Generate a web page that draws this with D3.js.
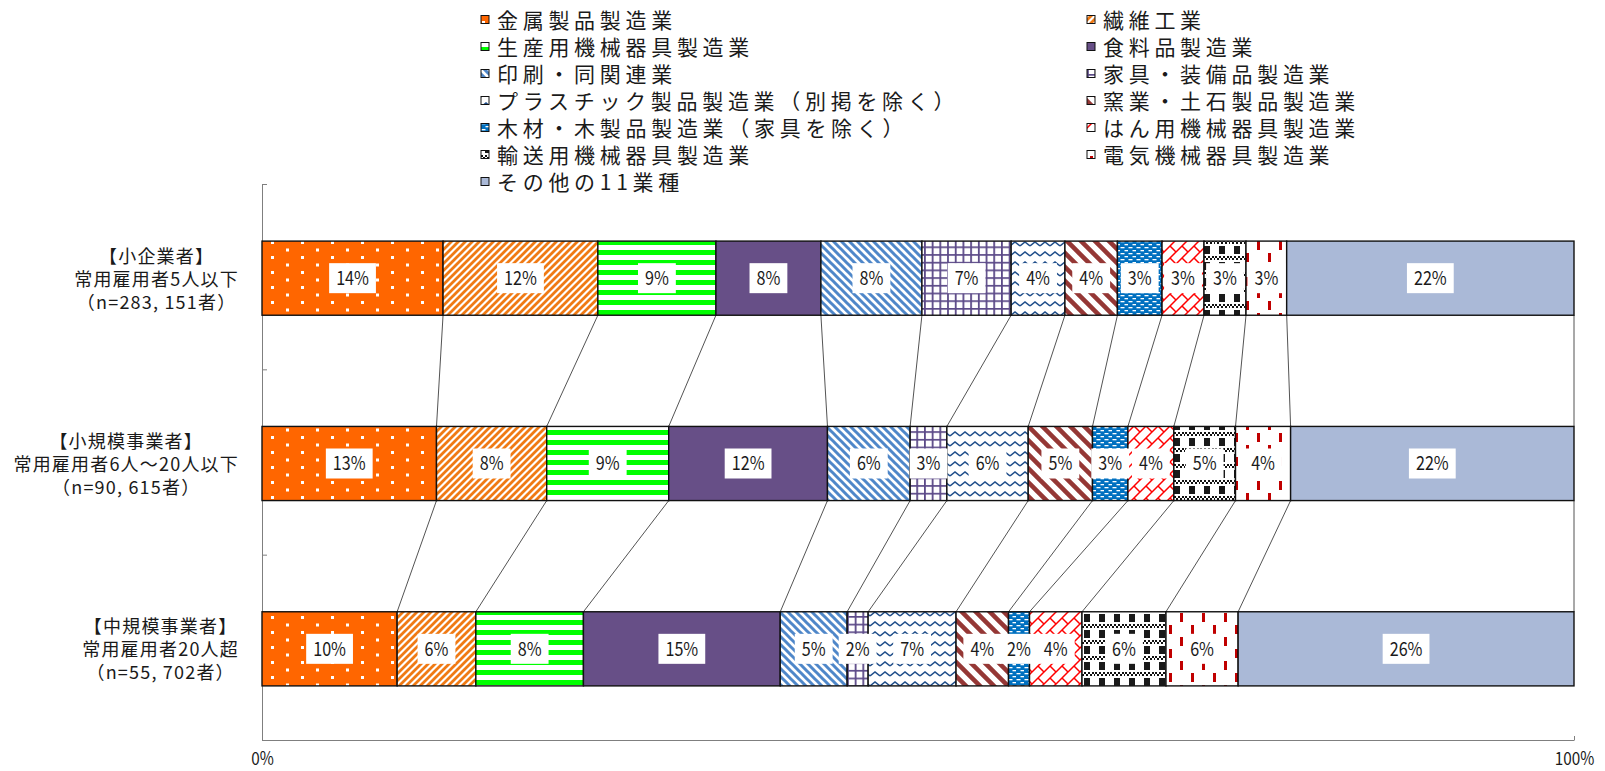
<!DOCTYPE html>
<html>
<head>
<meta charset="utf-8">
<script src="https://cdn.jsdelivr.net/npm/d3@7"></script>
<style>
body { margin: 0; background: #fff; }
text { font-family: "Noto Sans CJK JP", "Noto Sans", sans-serif; fill: #1a1a1a; }
</style>
</head>
<body>
<script>
// data (percent of businesses)
var industries = ["金属製品製造業", "繊維工業", "生産用機械器具製造業", "食料品製造業",
	"印刷・同関連業", "家具・装備品製造業", "プラスチック製品製造業（別掲を除く）", "窯業・土石製品製造業",
	"木材・木製品製造業（家具を除く）", "はん用機械器具製造業", "輸送用機械器具製造業", "電気機械器具製造業",
	"その他の11業種"];

var rowLabels = [
	["【小企業者】", "常用雇用者5人以下", "（n=283, 151者）"],
	["【小規模事業者】", "常用雇用者6人～20人以下", "（n=90, 615者）"],
	["【中規模事業者】", "常用雇用者20人超", "（n=55, 702者）"]
];

var smallEnterprise = [13.8, 11.8, 9.0, 8.0, 7.7, 6.8, 4.1, 4.0, 3.4, 3.2, 3.2, 3.1, 21.9];
var smallScale      = [13.3, 8.4, 9.3, 12.1, 6.3, 2.8, 6.2, 4.9, 2.7, 3.5, 4.7, 4.2, 21.6];
var mediumScale     = [10.3, 6.0, 8.2, 15.0, 5.1, 1.6, 6.7, 4.0, 1.6, 4.0, 6.4, 5.5, 25.6];

var xTickValues = [0, 100];
var xTickLabels = ["0%", "100%"];

var rowsData = [smallEnterprise, smallScale, mediumScale];

var width = 1605, height = 771;

var svg = d3.select("body").append("svg")
			.attr("width", width)
			.attr("height", height);

var defs = svg.append("defs");

// pattern helper
var addPattern = function(id, w, h, bg, draw){
	var p = defs.append("pattern")
				.attr("id", id)
				.attr("patternUnits", "userSpaceOnUse")
				.attr("width", w)
				.attr("height", h);
	p.append("rect").attr("width", w).attr("height", h).attr("fill", bg);
	if (draw) draw(p);
};

addPattern("p0", 30, 15, "#ff6600", p => {
	p.append("rect").attr("x", 1).attr("y", 1).attr("width", 3).attr("height", 3).attr("fill", "#fff");
	p.append("rect").attr("x", 16).attr("y", 8.5).attr("width", 3).attr("height", 3).attr("fill", "#fff");
});
addPattern("p1", 7, 7, "#fff", p => {
	p.append("path").attr("d", "M-2,2L2,-2M0,7L7,0M5,9L9,5")
		.attr("stroke", "#f07a14").attr("stroke-width", 2.8);
});
addPattern("p2", 10, 10, "#fff", p => {
	p.append("rect").attr("y", 0).attr("width", 10).attr("height", 5).attr("fill", "#00ff00");
});
addPattern("p3", 8, 8, "#674f87");
addPattern("p4", 8, 8, "#fff", p => {
	p.append("path").attr("d", "M0,0L8,8M-2,6L2,10M6,-2L10,2")
		.attr("stroke", "#4f87c9").attr("stroke-width", 3);
});
addPattern("p5", 7.7, 7.7, "#fff", p => {
	p.append("path").attr("d", "M0.9,0V7.7M0,0.9H7.7")
		.attr("stroke", "#5c4a88").attr("stroke-width", 1.8);
});
addPattern("p6", 10, 10, "#fff", p => {
	p.append("path").attr("d", "M0,6L5,2L10,6")
		.attr("stroke", "#1f4e8a").attr("stroke-width", 1.6).attr("fill", "none");
});
addPattern("p7", 14, 14, "#fff", p => {
	p.append("path").attr("d", "M0,0L14,14M-4,10L4,18M10,-4L18,4")
		.attr("stroke", "#953735").attr("stroke-width", 4.5);
});
addPattern("p8", 8, 6, "#0070c0", p => {
	p.append("rect").attr("x", 0.5).attr("y", 1).attr("width", 4).attr("height", 1.3).attr("fill", "#fff");
	p.append("rect").attr("x", 4.5).attr("y", 4).attr("width", 3.5).attr("height", 1.3).attr("fill", "#fff");
});
addPattern("p9", 12, 12, "#fff", p => {
	p.append("path").attr("d", "M0,12L12,0M6,6L12,12M-1,1L1,-1M11,13L13,11")
		.attr("stroke", "#ff0000").attr("stroke-width", 1.5).attr("fill", "none");
});
addPattern("p10", 15, 16, "#fff", p => {
	for (var i = 0; i < 8; i++) {
		p.append("rect").attr("x", i * 2).attr("y", (i % 2) * 2).attr("width", 2).attr("height", 2).attr("fill", "#111");
	}
	p.append("rect").attr("x", 4).attr("y", 6).attr("width", 6).attr("height", 8).attr("fill", "#1a1a1a");
});
addPattern("p11", 22, 24, "#fff", p => {
	p.append("rect").attr("x", 3).attr("y", 1).attr("width", 3).attr("height", 9).attr("fill", "#c00000");
	p.append("rect").attr("x", 14).attr("y", 13).attr("width", 3).attr("height", 9).attr("fill", "#c00000");
});
addPattern("p12", 8, 8, "#aab9d7");

// scales
var xScale = d3.scaleLinear()
				.domain([0, 100])
				.range([262, 1574]);

var yScale = d3.scaleBand()
				.domain(d3.range(rowsData.length))
				.range([185.5, 741.5])
				.paddingInner(0.6)
				.paddingOuter(0.3);

var yAxisScale = d3.scaleLinear()
				.domain([0, rowsData.length])
				.range([184, 740]);

var bw = yScale.bandwidth();

// stacked table
var table = rowsData.map((vals, i) => {
	var o = { row: i };
	industries.forEach((k, j) => o[k] = vals[j]);
	return o;
});
var stacked = d3.stack().keys(industries)(table);

// axes
var xAxis = d3.axisBottom(xScale)
				.tickValues(xTickValues)
				.tickFormat((d, i) => xTickLabels[i])
				.tickSizeInner(-4)
				.tickSizeOuter(0)
				.tickPadding(0);

var yAxis = d3.axisRight(yAxisScale)
				.tickValues(d3.range(rowsData.length + 1))
				.tickFormat("")
				.tickSizeInner(5)
				.tickSizeOuter(0);

var gx = svg.append("g")
		.attr("transform", "translate(0," + yAxisScale.range()[1] + ")")
		.call(xAxis);
gx.select(".domain").attr("stroke", "#7f7f7f");
gx.selectAll(".tick line").attr("stroke", "#7f7f7f");
gx.selectAll(".tick text")
	.attr("font-size", 18)
	.attr("font-family", null)
	.attr("fill", "#1a1a1a")
	.attr("transform", "scale(0.85,1)")
	.attr("x", 0)
	.attr("y", 25)
	.attr("dy", null);

var gy = svg.append("g")
		.attr("transform", "translate(" + xScale(0) + ",0)")
		.call(yAxis);
gy.select(".domain").attr("stroke", "#7f7f7f");
gy.selectAll(".tick line").attr("stroke", "#7f7f7f");

// series lines between rows
var seriesLines = [];
for (var r = 0; r < rowsData.length - 1; r++) {
	stacked.forEach(s => {
		seriesLines.push({ x1: s[r][1], x2: s[r + 1][1], r: r });
	});
}
svg.selectAll(".sline")
	.data(seriesLines)
	.enter()
	.append("line")
	.classed("sline", true)
	.attr("x1", d => xScale(d.x1))
	.attr("x2", d => xScale(d.x2))
	.attr("y1", d => yScale(d.r) + bw)
	.attr("y2", d => yScale(d.r + 1))
	.attr("stroke", "#404040")
	.attr("stroke-width", 0.9);

// bars
var series = svg.selectAll(".series")
				.data(stacked)
				.enter()
				.append("g")
				.classed("series", true)
				.attr("fill", (d, i) => "url(#p" + i + ")");

series.selectAll("rect")
	.data(d => d)
	.enter()
	.append("rect")
	.attr("x", d => xScale(d[0]))
	.attr("y", (d, i) => yScale(i))
	.attr("width", d => xScale(d[1]) - xScale(d[0]))
	.attr("height", bw)
	.attr("stroke", "#111")
	.attr("stroke-width", 1.4);

// value labels
var labels = [];
stacked.forEach(s => s.forEach((d, i) => labels.push({ v: d[1] - d[0], mid: (d[0] + d[1]) / 2, row: i })));

var lg = svg.selectAll(".lbl")
			.data(labels)
			.enter()
			.append("g")
			.classed("lbl", true)
			.attr("transform", d => "translate(" + xScale(d.mid) + "," + (yScale(d.row) + bw / 2) + ")");

lg.append("text")
	.attr("text-anchor", "middle")
	.attr("dy", "0.36em")
	.attr("font-size", 19)
	.attr("transform", "scale(0.85,1)")
	.text(d => Math.round(d.v) + "%");

lg.each(function(){
	var g = d3.select(this);
	var w = g.select("text").node().getComputedTextLength() * 0.85;
	g.insert("rect", "text")
		.attr("x", -w / 2 - 7)
		.attr("y", -15)
		.attr("width", w + 14)
		.attr("height", 30)
		.attr("fill", "#fff");
});

// row labels: each block centred on itself, right edge near the axis
var rl = svg.selectAll(".rowlabel")
			.data(rowLabels)
			.enter()
			.append("text")
			.classed("rowlabel", true)
			.attr("text-anchor", "middle")
			.attr("font-size", 18)
			.attr("letter-spacing", 1.2);

rl.selectAll("tspan")
	.data(d => d)
	.enter()
	.append("tspan")
	.attr("x", 0)
	.attr("y", (d, i) => (i - 1) * 23)
	.attr("dy", "0.36em")
	.text(d => d);

rl.attr("transform", function(d, i){
	var maxW = d3.max(d3.select(this).selectAll("tspan").nodes(), n => n.getComputedTextLength());
	return "translate(" + (239 - maxW / 2) + "," + (yScale(i) + bw / 2 + 1) + ")";
});

// legend
var legend = svg.selectAll(".legend")
				.data(industries)
				.enter()
				.append("g")
				.classed("legend", true)
				.attr("transform", (d, i) => "translate(" + (i % 2 == 0 ? 481 : 1087) + "," + (20 + Math.floor(i / 2) * 27) + ")");

legend.append("rect")
	.attr("x", 0)
	.attr("y", -4.5)
	.attr("width", 8)
	.attr("height", 8)
	.attr("fill", (d, i) => "url(#p" + i + ")")
	.attr("stroke", "#111")
	.attr("stroke-width", 1);

legend.append("text")
	.attr("x", 16)
	.attr("dy", "0.36em")
	.attr("font-size", 21)
	.attr("letter-spacing", 4.7)
	.text(d => d);
</script>
</body>
</html>
